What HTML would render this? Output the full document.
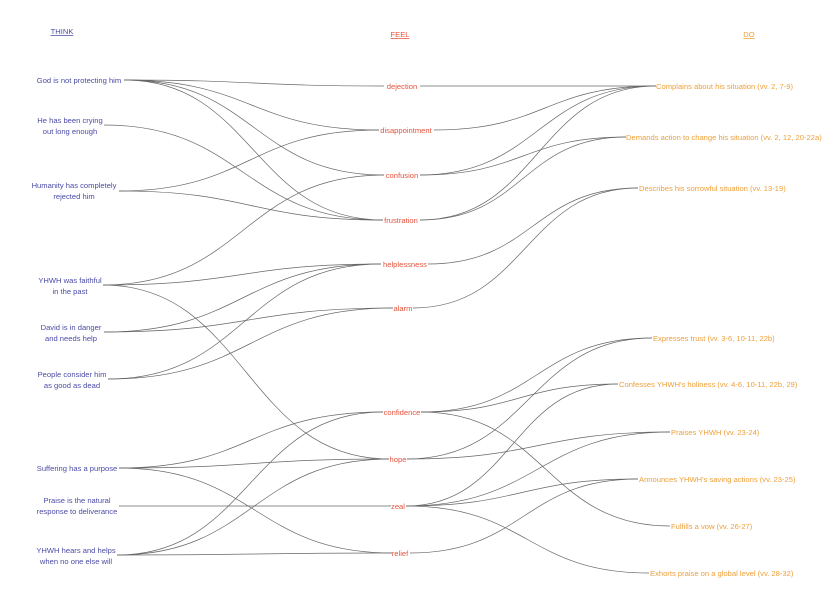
<!DOCTYPE html>
<html><head><meta charset="utf-8"><style>
body{margin:0;background:#fff}
svg text{font-family:"Liberation Sans",sans-serif;font-size:7.6px}
.t{fill:#4b4ba6}.f{fill:#e5533d}.d{fill:#eea03a}
path{fill:none;stroke:#666;stroke-width:0.7}
</style></head><body>
<svg width="825" height="587" viewBox="0 0 825 587" xmlns="http://www.w3.org/2000/svg">
<g>
<path d="M124 80C254 80 254 86 384 86"/>
<path d="M124 80C251.5 80 251.5 130 379 130"/>
<path d="M124 80C254 80 254 175 384 175"/>
<path d="M124 80C253.5 80 253.5 220 383 220"/>
<path d="M104 125C243.5 125 243.5 220 383 220"/>
<path d="M119 191C249 191 249 130 379 130"/>
<path d="M119 191C251 191 251 220 383 220"/>
<path d="M103 285C243.5 285 243.5 175 384 175"/>
<path d="M103 285C242 285 242 264 381 264"/>
<path d="M103 285C246 285 246 459 389 459"/>
<path d="M104 332C242.5 332 242.5 264 381 264"/>
<path d="M104 332C248.5 332 248.5 308 393 308"/>
<path d="M108 379C244.5 379 244.5 264 381 264"/>
<path d="M108 379C250.5 379 250.5 308 393 308"/>
<path d="M119 468C251 468 251 412 383 412"/>
<path d="M119 468C254 468 254 459 389 459"/>
<path d="M119 468C255.5 468 255.5 553 392 553"/>
<path d="M119 506C255 506 255 506 391 506"/>
<path d="M117 555C250 555 250 412 383 412"/>
<path d="M117 555C253 555 253 459 389 459"/>
<path d="M117 555C254.5 555 254.5 553 392 553"/>
<path d="M420 86C538 86 538 86 656 86"/>
<path d="M434 130C545 130 545 86 656 86"/>
<path d="M420 175C538 175 538 86 656 86"/>
<path d="M420 175C523 175 523 137 626 137"/>
<path d="M420 220C538 220 538 86 656 86"/>
<path d="M420 220C523 220 523 137 626 137"/>
<path d="M428 264C533 264 533 188 638 188"/>
<path d="M413 308C525.5 308 525.5 188 638 188"/>
<path d="M421 412C536.5 412 536.5 338 652 338"/>
<path d="M421 412C519.5 412 519.5 384 618 384"/>
<path d="M421 412C545.5 412 545.5 526 670 526"/>
<path d="M407 459C529.5 459 529.5 338 652 338"/>
<path d="M407 459C538.5 459 538.5 432 670 432"/>
<path d="M406 506C512 506 512 384 618 384"/>
<path d="M406 506C538 506 538 432 670 432"/>
<path d="M406 506C522 506 522 479 638 479"/>
<path d="M406 506C527.5 506 527.5 573 649 573"/>
<path d="M410 553C524 553 524 479 638 479"/>
</g>
<text class="t" x="62" y="34" text-anchor="middle" text-decoration="underline">THINK</text>
<text class="f" x="400" y="37" text-anchor="middle" text-decoration="underline">FEEL</text>
<text class="d" x="749" y="37" text-anchor="middle" text-decoration="underline">DO</text>
<g class="t" text-anchor="middle">
<text x="79" y="83">God is not protecting him</text>
<text x="70" y="123">He has been crying</text><text x="70" y="134">out long enough</text>
<text x="74" y="188">Humanity has completely</text><text x="74" y="199">rejected him</text>
<text x="70" y="283">YHWH was faithful</text><text x="70" y="294">in the past</text>
<text x="71" y="330">David is in danger</text><text x="71" y="341">and needs help</text>
<text x="72" y="377">People consider him</text><text x="72" y="388">as good as dead</text>
<text x="77" y="471">Suffering has a purpose</text>
<text x="77" y="503">Praise is the natural</text><text x="77" y="514">response to deliverance</text>
<text x="76" y="553">YHWH hears and helps</text><text x="76" y="564">when no one else will</text>
</g>
<g class="f" text-anchor="middle">
<text x="402" y="89">dejection</text>
<text x="406" y="133">disappointment</text>
<text x="402" y="178">confusion</text>
<text x="401" y="223">frustration</text>
<text x="405" y="267">helplessness</text>
<text x="403" y="311">alarm</text>
<text x="402" y="415">confidence</text>
<text x="398" y="462">hope</text>
<text x="398" y="509">zeal</text>
<text x="400" y="556">relief</text>
</g>
<g class="d">
<text x="656" y="89">Complains about his situation (vv. 2, 7-9)</text>
<text x="626" y="140">Demands action to change his situation (vv. 2, 12, 20-22a)</text>
<text x="639" y="191">Describes his sorrowful situation (vv. 13-19)</text>
<text x="653" y="341">Expresses trust (vv. 3-6, 10-11, 22b)</text>
<text x="619" y="387">Confesses YHWH's holiness (vv. 4-6, 10-11, 22b, 29)</text>
<text x="671" y="435">Praises YHWH (vv. 23-24)</text>
<text x="639" y="482">Announces YHWH's saving actions (vv. 23-25)</text>
<text x="671" y="529">Fulfills a vow (vv. 26-27)</text>
<text x="650" y="576">Exhorts praise on a global level (vv. 28-32)</text>
</g>
</svg>
</body></html>
